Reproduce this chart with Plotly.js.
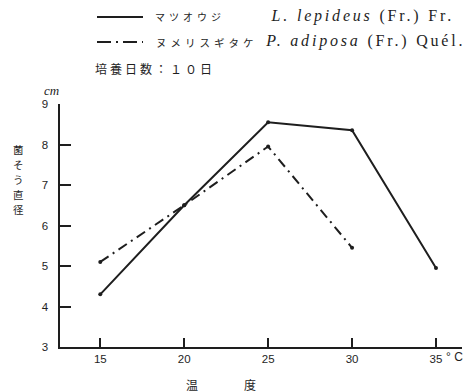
<!DOCTYPE html>
<html><head><meta charset="utf-8">
<script src="https://cdn.plot.ly/plotly-3.0.1.min.js"></script>
<style>
html,body{margin:0;padding:0;background:#fff;}
g.annotation[data-index="0"] text, g.annotation[data-index="1"] text {letter-spacing: 4px;}
g.annotation[data-index="2"] text, g.annotation[data-index="3"] text {letter-spacing: 2.8px;}
g.annotation[data-index="4"] text {letter-spacing: 3px;}
</style>
</head><body>
<div id="chart" style="width:465px;height:392px;"></div>
<script>
const temps = [15, 20, 25, 30, 35];
const tempsB = [15, 20, 25, 30];
const lepideus = [4.3, 6.5, 8.55, 8.35, 4.95];
const adiposa = [5.1, 6.5, 7.95, 5.45];
const xTicks = [15, 20, 25, 30, 35];
const yTicks = [3, 4, 5, 6, 7, 8, 9];
const yTitleChars = ['菌', 'そ', 'う', '直', '径'];

const ink = '#1e1e1e';
const jp = '"Noto Sans CJK JP", sans-serif';
const traces = [
  {x: temps, y: lepideus, mode: 'lines+markers', line: {color: ink, width: 2}, marker: {size: 4, color: ink}, showlegend: false, hoverinfo: 'skip'},
  {x: tempsB, y: adiposa, mode: 'lines+markers', line: {color: ink, width: 2, dash: '10px,5px,2px,5px'}, marker: {size: 4, color: ink}, showlegend: false, hoverinfo: 'skip'}
];
function px(x){return (x-60)/402;}
function py(y){return (347-y)/243;}
const annotations = [
  {xref: 'paper', yref: 'paper', x: px(190), y: py(17), xanchor: 'center', yanchor: 'middle', showarrow: false, text: 'マツオウジ', font: {family: jp, size: 10}},
  {xref: 'paper', yref: 'paper', x: px(207), y: py(42), xanchor: 'center', yanchor: 'middle', showarrow: false, text: 'ヌメリスギタケ', font: {family: jp, size: 10.5}},
  {xref: 'paper', yref: 'paper', x: px(362), y: py(16), xanchor: 'center', yanchor: 'middle', showarrow: false, text: '<i>L. lepideus</i> (Fr.) Fr.', font: {family: '"Liberation Serif", serif', size: 16}},
  {xref: 'paper', yref: 'paper', x: px(365), y: py(41), xanchor: 'center', yanchor: 'middle', showarrow: false, text: '<i>P. adiposa</i> (Fr.) Quél.', font: {family: '"Liberation Serif", serif', size: 16}},
  {xref: 'paper', yref: 'paper', x: px(155), y: py(68), xanchor: 'center', yanchor: 'middle', showarrow: false, text: '培養日数：１０日', font: {family: jp, size: 12}},
  {xref: 'paper', yref: 'paper', x: px(51), y: py(91), xanchor: 'center', yanchor: 'middle', showarrow: false, text: '<i>cm</i>', font: {family: '"Liberation Serif", serif', size: 13}},
  {xref: 'paper', yref: 'paper', x: px(454), y: py(357), xanchor: 'center', yanchor: 'middle', showarrow: false, text: '° C', font: {size: 12}},
  {xref: 'paper', yref: 'paper', x: px(192), y: py(384), xanchor: 'center', yanchor: 'middle', showarrow: false, text: '温', font: {family: jp, size: 12}},
  {xref: 'paper', yref: 'paper', x: px(250), y: py(384), xanchor: 'center', yanchor: 'middle', showarrow: false, text: '度', font: {family: jp, size: 12}}
];
yTitleChars.forEach((c, i) => {
  annotations.push({xref: 'paper', yref: 'paper', x: px(18), y: py(149 + i * 15), xanchor: 'center', yanchor: 'middle', showarrow: false, text: c, font: {family: jp, size: 10.5}});
});
const layout = {
  width: 465, height: 392,
  margin: {l: 60, r: 3, t: 104, b: 45},
  paper_bgcolor: '#fff', plot_bgcolor: '#fff',
  font: {family: '"Liberation Sans", Arial, sans-serif', color: ink, size: 11.5},
  xaxis: {range: [12.6, 36.55], tickvals: xTicks, ticks: 'inside', ticklen: 9, tickwidth: 2, tickcolor: ink,
          showline: true, linecolor: ink, linewidth: 2, showgrid: false, zeroline: false, fixedrange: true},
  yaxis: {range: [3, 9], tickvals: yTicks, ticks: 'inside', ticklen: 11, tickwidth: 2, tickcolor: ink,
          showline: true, linecolor: ink, linewidth: 2.5, showgrid: false, zeroline: false, ticklabelstandoff: 7, fixedrange: true},
  shapes: [
    {type: 'line', xref: 'paper', yref: 'paper', x0: px(97), x1: px(143), y0: py(17), y1: py(17), line: {color: ink, width: 2}},
    {type: 'line', xref: 'paper', yref: 'paper', x0: px(97), x1: px(143), y0: py(42), y1: py(42), line: {color: ink, width: 2, dash: '14px,5px,2px,5px'}}
  ],
  annotations: annotations
};
Plotly.newPlot('chart', traces, layout, {displayModeBar: false, staticPlot: true});
</script>
</body></html>
